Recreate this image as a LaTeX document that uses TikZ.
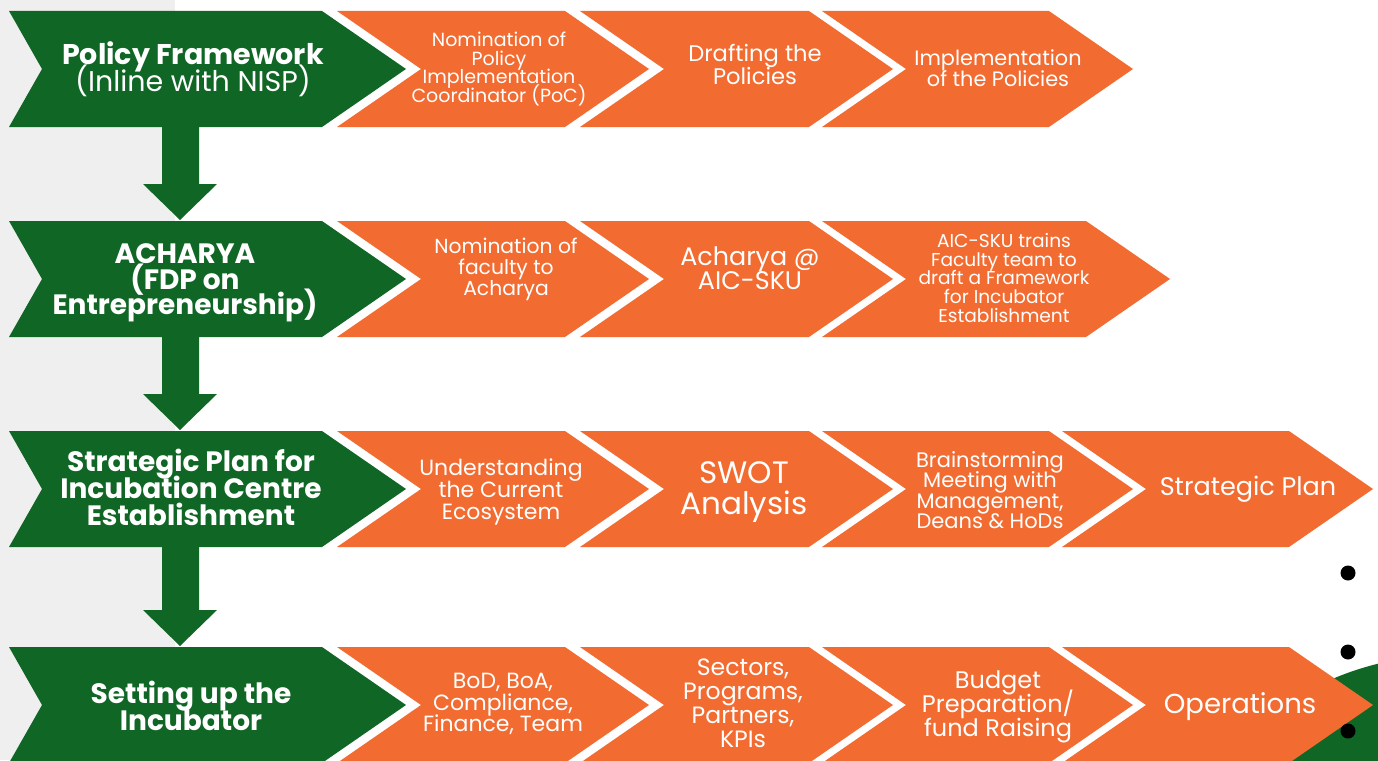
\documentclass[tikz,border=0pt]{standalone}
\usepackage{fontspec}
\setmainfont{Poppins}
\definecolor{grnC}{HTML}{106625}
\definecolor{orgC}{HTML}{F26C32}
\definecolor{grayC}{HTML}{EFEFEF}
\newcommand\mychev[5]{% color, x0, x1, ytop, notch
  \fill[#1] (#2,#4) -- (#3,#4) -- (#3+84,#4+58) -- (#3,#4+116) -- (#2,#4+116) -- (#2+#5,#4+58) -- cycle;}
\newcommand\fs[2]{\fontsize{#1}{#2}\selectfont\lineskiplimit=-100pt\relax}
\tikzset{
  gtext/.style={text=white, align=center, inner sep=0pt},
  otext/.style={text=white, align=center, inner sep=0pt},
  bullet/.style={fill=black},
}
\begin{document}
\begin{tikzpicture}[x=1pt,y=-1pt]
\useasboundingbox (0,0) rectangle (1378,760);
\clip (0,0) rectangle (1378,760);
\fill[white] (0,0) rectangle (1378,760);
\fill[grayC] (0,0) rectangle (175,760);
% green circle bottom right
\fill[grnC] (1450,955) circle (300);
% vertical block arrows
\foreach \yb/\yt in {127/221, 337/431, 547/647}{
  \fill[grnC] (162,\yb) -- (199,\yb) -- (199,\yt-37) -- (217,\yt-37) -- (180,\yt-1) -- (143,\yt-37) -- (162,\yt-37) -- cycle;
}
% green chevrons
\foreach \yt in {11,221,431,647}{ \mychev{grnC}{9}{322}{\yt}{33} }
% orange chevrons
\foreach \yt in {11,221,431,647}{
  \mychev{orgC}{337}{565}{\yt}{84}
  \mychev{orgC}{580}{809}{\yt}{84}
}
\mychev{orgC}{822}{1049}{11}{84}
\mychev{orgC}{822}{1086}{221}{84}
\mychev{orgC}{822}{1049}{431}{84}
\mychev{orgC}{822}{1049}{647}{84}
\mychev{orgC}{1062}{1289}{431}{84}
\mychev{orgC}{1062}{1289}{647}{84}
% bullets
\fill[bullet] (1348,573) circle (7.5);
\fill[bullet] (1348,652) circle (7.5);
\fill[bullet] (1348,731) circle (7.5);
% green texts
\node[gtext, font=\bfseries\fs{28.5}{27}] (g1) at (193,69) {Policy Framework\\{\mdseries (Inline with NISP)}};
\node[gtext, font=\bfseries\fs{28}{25.5}] (g2) at (185,283) {ACHARYA\\(FDP on\\Entrepreneurship)};
\node[gtext, font=\bfseries\fs{28}{27}] (g3) at (191,487.5) {Strategic Plan for\\Incubation Centre\\Establishment};
\node[gtext, font=\bfseries\fs{28}{27}] (g4) at (191,706) {Setting up the\\Incubator};
% row 1
\node[otext, font=\fs{19}{18.7}] (r1c1) at (499,69) {Nomination of\\Policy\\Implementation\\Coordinator (PoC)};
\node[otext, font=\fs{22.6}{23}] (r1c2) at (755,64) {Drafting the\\Policies};
\node[otext, font=\fs{20.8}{21}] (r1c3) at (998,68) {Implementation\\of the Policies};
% row 2
\node[otext, font=\fs{20.3}{21}] (r2c1) at (506,269) {Nomination of\\faculty to\\Acharya};
\node[otext, font=\fs{25.4}{24}] (r2c2) at (750,268) {Acharya @\\AIC-SKU};
\node[otext, font=\fs{18.6}{18.8}] (r2c3) at (1004,278) {AIC-SKU trains\\Faculty team to\\draft a Framework\\for Incubator\\Establishment};
% row 3
\node[otext, font=\fs{22}{22}] (r3c1) at (501,492) {Understanding\\the Current\\Ecosystem};
\node[otext, font=\fs{31}{31}] (r3c2) at (744,492) {SWOT\\Analysis};
\node[otext, font=\fs{21}{20.4}] (r3c3) at (990,490) {Brainstorming\\Meeting with\\Management,\\Deans \& HoDs};
\node[otext, font=\fs{25.5}{25}] (r3c4) at (1248,489) {Strategic Plan};
% row 4
\node[otext, font=\fs{22}{21.5}] (r4c1) at (503,704) {BoD, BoA,\\Compliance,\\Finance, Team};
\node[otext, font=\fs{23.6}{24}] (r4c2) at (743,703) {Sectors,\\Programs,\\Partners,\\KPIs};
\node[otext, font=\fs{24}{24}] (r4c3) at (998,706.5) {Budget\\Preparation/\\fund Raising};
\node[otext, font=\fs{27.5}{27}] (r4c4) at (1240,707) {Operations};
\end{tikzpicture}
\end{document}
